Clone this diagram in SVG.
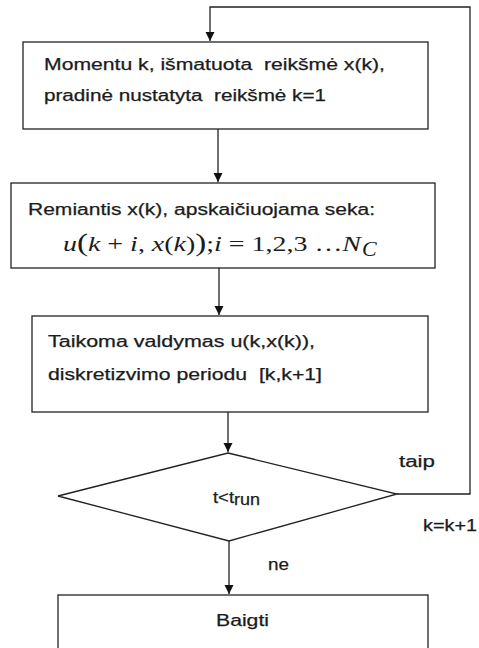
<svg xmlns="http://www.w3.org/2000/svg" width="479" height="648" viewBox="0 0 479 648">
  <defs>
    <marker id="arrow" markerWidth="10" markerHeight="10" refX="9" refY="5" orient="auto" markerUnits="userSpaceOnUse">
      <path d="M0,0.5 L9,5 L0,9.5 Z" fill="#111"/>
    </marker>
  </defs>
  <style>
    .box { fill: #fff; stroke: #222; stroke-width: 1.3; }
    .line { fill: none; stroke: #222; stroke-width: 1.3; }
    .txt { font-family: "Liberation Sans", Arial, sans-serif; font-size: 16px; fill: #1c1c1c; white-space: pre; stroke: #1c1c1c; stroke-width: 0.25; }
    .math { font-family: "Liberation Serif", "Times New Roman", serif; font-size: 22px; fill: #1c1c1c; white-space: pre; }
    .it { font-style: italic; }
  </style>
  <rect width="479" height="648" fill="#fff"/>

  <!-- connectors -->
  <g id="connectors">
    <path class="line" d="M397,494 H470 V7 H210 V41" marker-end="url(#arrow)"/>
    <path class="line" d="M218,129 V182" marker-end="url(#arrow)"/>
    <path class="line" d="M219,268 V315" marker-end="url(#arrow)"/>
    <path class="line" d="M228,412 V452" marker-end="url(#arrow)"/>
    <path class="line" d="M229,541 V594" marker-end="url(#arrow)"/>
    <text class="txt" x="399" y="467" textLength="36" lengthAdjust="spacingAndGlyphs">taip</text>
    <text class="txt" x="423" y="531" textLength="54" lengthAdjust="spacingAndGlyphs">k=k+1</text>
    <text class="txt" x="268" y="570" textLength="21" lengthAdjust="spacingAndGlyphs">ne</text>
  </g>

  <!-- measurement at step k -->
  <g id="measure">
    <rect class="box" x="23" y="42" width="405" height="87"/>
    <text class="txt" x="44" y="70" textLength="341" lengthAdjust="spacingAndGlyphs">Momentu k, išmatuota  reikšmė x(k),</text>
    <text class="txt" x="44" y="101" textLength="282" lengthAdjust="spacingAndGlyphs">pradinė nustatyta  reikšmė k=1</text>
  </g>

  <!-- control sequence computation -->
  <g id="compute">
    <rect class="box" x="11" y="183" width="424" height="85"/>
    <text class="txt" x="28" y="215" textLength="347" lengthAdjust="spacingAndGlyphs">Remiantis x(k), apskaičiuojama seka:</text>
    <text class="math" x="63" y="251" textLength="298" lengthAdjust="spacingAndGlyphs"><tspan class="it">u</tspan><tspan font-size="26">(</tspan><tspan class="it">k</tspan> + <tspan class="it">i</tspan>, <tspan class="it">x</tspan>(<tspan class="it">k</tspan>)<tspan font-size="26">)</tspan>;<tspan class="it">i</tspan> = 1,2,3 …<tspan class="it">N</tspan></text>
    <text class="math it" x="362" y="256" font-size="14">C</text>
  </g>

  <!-- apply control -->
  <g id="apply">
    <rect class="box" x="32" y="316" width="396" height="96"/>
    <text class="txt" x="48" y="347" textLength="267" lengthAdjust="spacingAndGlyphs">Taikoma valdymas u(k,x(k)),</text>
    <text class="txt" x="48" y="380" textLength="274" lengthAdjust="spacingAndGlyphs">diskretizvimo periodu  [k,k+1]</text>
  </g>

  <!-- decision -->
  <g id="decision">
    <polygon class="box" points="228,453 397,494 229,541 58,496"/>
    <text class="txt" x="213" y="503" textLength="21" lengthAdjust="spacingAndGlyphs">t&lt;t</text>
    <text class="txt" x="234" y="505" font-size="12" textLength="26" lengthAdjust="spacingAndGlyphs">run</text>
  </g>

  <!-- end -->
  <g id="finish">
    <rect class="box" x="58" y="595" width="370" height="70"/>
    <text class="txt" x="216" y="626" textLength="53" lengthAdjust="spacingAndGlyphs">Baigti</text>
  </g>
</svg>
